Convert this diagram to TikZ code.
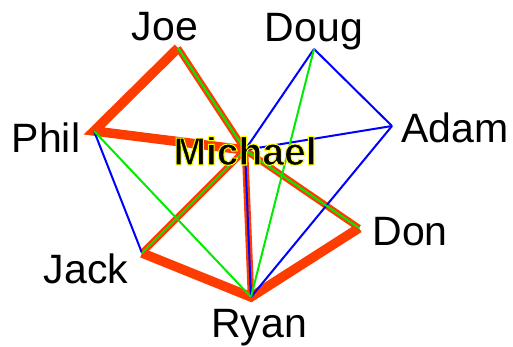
\documentclass[tikz,border=0pt]{standalone}
\usepackage{fontspec}
\setmainfont{Liberation Sans}
\definecolor{ered}{RGB}{255,60,0}
\definecolor{egreen}{RGB}{0,235,0}
\definecolor{eblue}{RGB}{0,0,255}
\begin{document}
\begin{tikzpicture}[x=1pt,y=-1pt,
  thickred/.style={draw=ered,line width=9.5pt,line join=miter},
  medred/.style={draw=ered,line width=6.5pt},
  thingreen/.style={draw=egreen,line width=2pt},
  thinblue/.style={draw=eblue,line width=2pt},
  lbl/.style={font=\fontsize{41}{48}\selectfont,anchor=base,inner sep=0pt}]
\useasboundingbox (0,0) rectangle (513,347);
% vertices
\coordinate (joe) at (178,48);
\coordinate (doug) at (314,49);
\coordinate (phil) at (94,131);
\coordinate (adam) at (392,126);
\coordinate (michael) at (245,150);
\coordinate (don) at (359,228);
\coordinate (jack) at (142,253);
\coordinate (ryan) at (251,297);
% red edges
\draw[thickred] (joe) -- (phil) -- (michael);
\draw[thickred] (jack) -- (ryan) -- (don);
\draw[medred] (joe) -- (michael);
\draw[medred] (michael) -- (jack);
\draw[medred] (michael) -- (don);
\draw[medred] (michael) -- (ryan);
% blue edges
\draw[thinblue] (phil) -- (jack);
\draw[thinblue] (doug) -- (michael);
\draw[thinblue] (doug) -- (adam);
\draw[thinblue] (adam) -- (michael);
\draw[thinblue] (adam) -- (ryan);
\draw[thinblue] (michael) -- (ryan);
% green edges
\draw[thingreen] (joe) -- (michael);
\draw[thingreen] (michael) -- (jack);
\draw[thingreen] (michael) -- (don);
\draw[thingreen] (phil) -- (ryan);
\draw[thingreen] (doug) -- (ryan);
% labels
\node[lbl] (joeL) at (165,41) {Joe};
\node[lbl] (dougL) at (314,42) {Doug};
\node[lbl] (philL) at (46,153) {Phil};
\node[lbl] (adamL) at (455,143) {Adam};
\node[lbl] (donL) at (410,245) {Don};
\node[lbl] (jackL) at (86,283) {Jack};
\node[lbl] (ryanL) at (259,337) {Ryan};
\node[lbl,font=\fontsize{39}{46}\selectfont\bfseries] (michaelL) at (245,165)
  {\special{pdf:literal direct 2 Tr 0 g 1 1 0 RG 1.0 w}Michael\special{pdf:literal direct 0 Tr}};
\end{tikzpicture}
\end{document}
